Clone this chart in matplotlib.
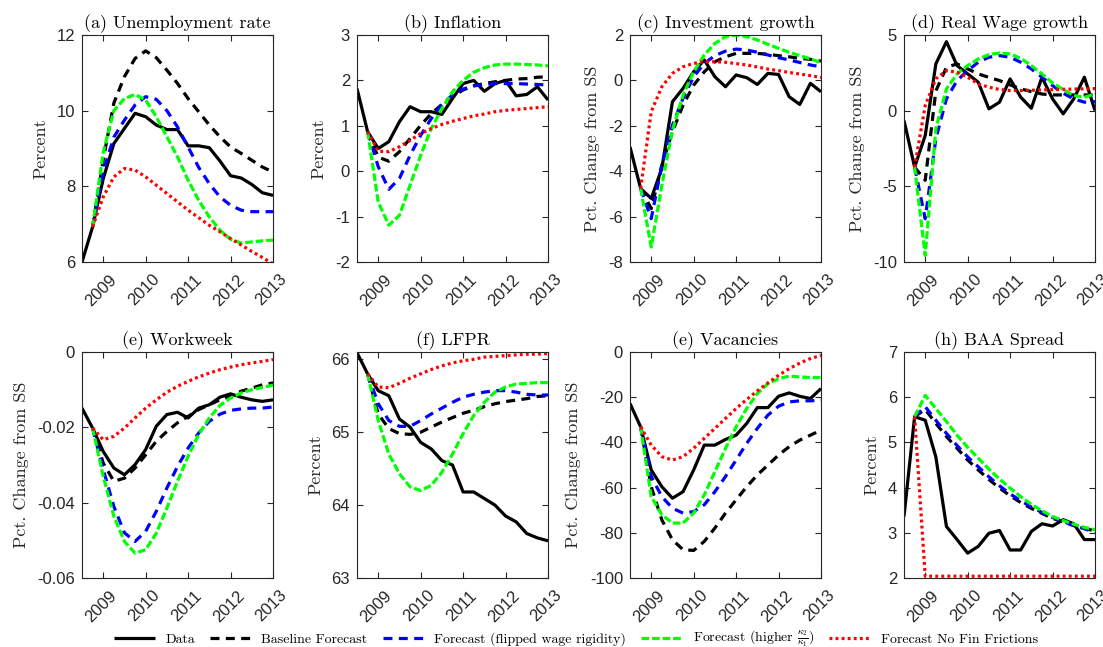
import numpy as np
import matplotlib
matplotlib.use("Agg")
import matplotlib.pyplot as plt
import matplotlib.transforms as mtransforms

plt.rcParams['axes.unicode_minus'] = False
plt.rcParams['mathtext.fontset'] = 'cm'

# quarterly dates (data from 2008Q3, forecasts from 2008Q4)
quarters = [2008.5, 2008.75, 2009.0, 2009.25, 2009.5, 2009.75, 2010.0, 2010.25, 2010.5,
            2010.75, 2011.0, 2011.25, 2011.5, 2011.75, 2012.0, 2012.25, 2012.5, 2012.75, 2013.0]
xticks = [2009, 2010, 2011, 2012, 2013]
series_labels = ["Data", "Baseline Forecast", "Forecast (flipped wage rigidity)",
                 r"Forecast (higher $\frac{\kappa_2}{\kappa_1}$)", "Forecast No Fin Frictions"]

# (a) Unemployment rate
unemp_data = [6.0, 6.93, 8.2, 9.13, 9.53, 9.93, 9.84, 9.62, 9.5, 9.5, 9.07, 9.07, 9.02, 8.67, 8.28, 8.22, 8.05, 7.83, 7.76]
unemp_base = [6.93, 8.7, 10.2, 10.9, 11.38, 11.58, 11.4, 11.07, 10.72, 10.32, 9.97, 9.62, 9.31, 9.04, 8.87, 8.69, 8.51, 8.38]
unemp_flip = [6.93, 8.4, 9.3, 9.75, 10.15, 10.37, 10.3, 10.0, 9.57, 9.04, 8.5, 8.07, 7.72, 7.5, 7.37, 7.33, 7.33, 7.33]
unemp_kappa = [6.93, 8.9, 10.0, 10.32, 10.43, 10.28, 9.84, 9.31, 8.78, 8.16, 7.63, 7.19, 6.84, 6.6, 6.5, 6.53, 6.56, 6.58]
unemp_nofin = [6.93, 7.72, 8.25, 8.47, 8.43, 8.25, 8.03, 7.81, 7.59, 7.37, 7.17, 6.97, 6.8, 6.62, 6.45, 6.28, 6.12, 5.95]

# (b) Inflation
infl_data = [1.82, 0.87, 0.5, 0.65, 1.09, 1.42, 1.31, 1.31, 1.25, 1.6, 1.93, 2.0, 1.76, 1.93, 2.0, 1.66, 1.69, 1.86, 1.57]
infl_base = [0.87, 0.31, 0.22, 0.43, 0.72, 1.01, 1.27, 1.47, 1.64, 1.79, 1.88, 1.93, 1.97, 2.0, 2.03, 2.04, 2.07, 2.08]
infl_flip = [0.87, 0.1, -0.4, -0.16, 0.35, 0.79, 1.16, 1.47, 1.68, 1.81, 1.88, 1.91, 1.93, 1.93, 1.93, 1.92, 1.91, 1.9]
infl_kappa = [0.87, -0.68, -1.19, -0.97, -0.31, 0.35, 0.94, 1.38, 1.75, 2.0, 2.18, 2.28, 2.34, 2.36, 2.36, 2.35, 2.34, 2.32]
infl_nofin = [0.87, 0.44, 0.43, 0.54, 0.68, 0.83, 0.94, 1.03, 1.1, 1.16, 1.22, 1.26, 1.31, 1.34, 1.36, 1.38, 1.4, 1.42]

# (c) Investment growth
inv_data = [-2.93, -4.76, -5.2, -3.88, -0.94, -0.35, 0.38, 0.9, 0.16, -0.28, 0.24, 0.12, -0.18, 0.31, 0.26, -0.72, -1.06, -0.13, -0.5]
inv_base = [-4.76, -5.65, -3.74, -2.26, -1.09, -0.21, 0.38, 0.82, 1.04, 1.19, 1.19, 1.19, 1.15, 1.09, 1.04, 0.97, 0.93, 0.85]
inv_flip = [-4.76, -6.09, -3.74, -1.97, -0.79, 0.16, 0.75, 1.09, 1.29, 1.38, 1.34, 1.24, 1.12, 1.0, 0.9, 0.79, 0.68, 0.6]
inv_kappa = [-4.76, -7.34, -4.62, -2.19, -0.65, 0.38, 1.12, 1.63, 1.93, 2.0, 1.93, 1.78, 1.59, 1.41, 1.24, 1.09, 0.95, 0.78]
inv_nofin = [-4.76, -1.38, -0.28, 0.31, 0.6, 0.75, 0.82, 0.82, 0.8, 0.74, 0.68, 0.59, 0.5, 0.43, 0.35, 0.28, 0.21, 0.13]

# (d) Real wage growth
wage_data = [-0.65, -3.73, -1.64, 3.09, 4.56, 2.98, 2.43, 1.88, 0.12, 0.56, 2.1, 0.89, 0.16, 2.21, 0.78, -0.21, 0.78, 2.21, 0.01]
wage_base = [-3.73, -4.6, 1.3, 2.87, 3.09, 2.76, 2.43, 2.2, 1.99, 1.7, 1.44, 1.26, 1.1, 1.04, 1.04, 1.04, 1.04, 1.04]
wage_flip = [-3.73, -7.14, -1.86, 0.78, 1.99, 2.65, 3.2, 3.53, 3.64, 3.53, 3.2, 2.76, 2.21, 1.66, 1.15, 0.78, 0.56, 0.6]
wage_kappa = [-3.73, -9.56, -1.2, 1.44, 2.43, 2.98, 3.42, 3.7, 3.81, 3.75, 3.46, 2.98, 2.43, 1.83, 1.4, 1.0, 0.89, 1.1]
wage_nofin = [-3.73, 0.34, 2.1, 2.65, 2.54, 2.21, 1.77, 1.55, 1.4, 1.33, 1.33, 1.35, 1.37, 1.39, 1.41, 1.43, 1.44, 1.46]

# (e) Workweek
ww_data = [-0.0149, -0.0202, -0.0264, -0.0308, -0.0326, -0.0299, -0.0259, -0.0197, -0.0166, -0.016, -0.0175, -0.0149, -0.014, -0.012, -0.0111, -0.012, -0.0127, -0.0131, -0.0127]
ww_base = [-0.0202, -0.0295, -0.0343, -0.0335, -0.0308, -0.0273, -0.0237, -0.0211, -0.0188, -0.0171, -0.0153, -0.014, -0.0127, -0.0116, -0.0104, -0.0096, -0.0087, -0.0082]
ww_flip = [-0.0202, -0.0312, -0.041, -0.048, -0.0503, -0.0476, -0.0423, -0.0361, -0.0304, -0.0255, -0.0215, -0.0184, -0.0165, -0.0155, -0.0151, -0.0149, -0.0149, -0.0146]
ww_kappa = [-0.0202, -0.033, -0.0436, -0.0503, -0.0534, -0.0525, -0.0481, -0.0414, -0.0343, -0.0277, -0.0219, -0.0175, -0.0142, -0.0122, -0.0109, -0.01, -0.0094, -0.0088]
ww_nofin = [-0.0202, -0.0233, -0.0224, -0.0202, -0.0175, -0.0149, -0.0127, -0.0107, -0.0091, -0.0078, -0.0066, -0.0056, -0.0047, -0.004, -0.0034, -0.0029, -0.0025, -0.002]

# (f) LFPR
lfpr_data = [66.09, 65.8, 65.57, 65.5, 65.18, 65.07, 64.86, 64.77, 64.61, 64.55, 64.18, 64.18, 64.09, 64.0, 63.85, 63.77, 63.61, 63.55, 63.51]
lfpr_base = [65.8, 65.25, 65.05, 64.98, 64.97, 65.0, 65.07, 65.14, 65.2, 65.26, 65.3, 65.35, 65.39, 65.42, 65.44, 65.46, 65.49, 65.5]
lfpr_flip = [65.8, 65.39, 65.16, 65.08, 65.08, 65.16, 65.25, 65.33, 65.41, 65.48, 65.52, 65.55, 65.57, 65.57, 65.55, 65.52, 65.51, 65.51]
lfpr_kappa = [65.8, 65.16, 64.7, 64.43, 64.25, 64.2, 64.27, 64.45, 64.7, 64.98, 65.23, 65.41, 65.55, 65.62, 65.66, 65.67, 65.68, 65.68]
lfpr_nofin = [65.8, 65.62, 65.61, 65.67, 65.74, 65.8, 65.86, 65.91, 65.95, 65.98, 66.0, 66.03, 66.04, 66.05, 66.06, 66.07, 66.07, 66.08]

# (g) Vacancies
vac_data = [-22.8, -33.1, -52.2, -59.6, -64.7, -61.8, -52.2, -41.2, -41.2, -38.7, -36.8, -31.6, -24.6, -24.6, -19.6, -18.1, -19.6, -20.6, -16.2]
vac_base = [-33.1, -59.6, -74.3, -83.1, -87.5, -87.8, -83.8, -77.9, -71.3, -65.4, -59.6, -54.4, -50.0, -45.6, -41.9, -39.0, -36.8, -34.6]
vac_flip = [-33.1, -55.1, -64.0, -69.1, -71.3, -70.6, -67.6, -61.8, -55.1, -47.8, -40.4, -33.8, -27.9, -24.0, -22.1, -21.6, -21.6, -21.3]
vac_kappa = [-33.1, -64.0, -72.0, -75.7, -75.7, -71.3, -63.2, -52.9, -42.6, -33.1, -25.0, -18.4, -14.0, -11.8, -10.7, -11.0, -11.3, -11.3]
vac_nofin = [-33.1, -41.2, -46.3, -47.8, -46.3, -42.6, -38.2, -33.8, -29.4, -25.0, -21.0, -17.2, -13.7, -10.3, -7.4, -4.9, -2.9, -1.5]

# (h) BAA Spread
baa_data = [3.36, 5.57, 5.49, 4.68, 3.14, 2.85, 2.55, 2.7, 2.99, 3.05, 2.62, 2.62, 3.03, 3.2, 3.15, 3.29, 3.2, 2.85, 2.85]
baa_base = [5.57, 5.73, 5.42, 5.13, 4.87, 4.61, 4.39, 4.18, 3.99, 3.82, 3.67, 3.54, 3.43, 3.32, 3.24, 3.16, 3.1, 3.04]
baa_flip = [5.57, 5.79, 5.49, 5.2, 4.93, 4.68, 4.46, 4.24, 4.04, 3.86, 3.71, 3.57, 3.45, 3.34, 3.25, 3.16, 3.09, 3.01]
baa_kappa = [5.57, 6.04, 5.75, 5.46, 5.16, 4.89, 4.65, 4.41, 4.19, 3.99, 3.8, 3.63, 3.49, 3.36, 3.27, 3.19, 3.12, 3.07]
baa_nofin = [5.57, 2.04, 2.04, 2.04, 2.04, 2.04, 2.04, 2.04, 2.04, 2.04, 2.04, 2.04, 2.04, 2.04, 2.04, 2.04, 2.04, 2.04]

panels = [
    ("(a) Unemployment rate", "Percent", (6, 12), [6, 8, 10, 12], ["6", "8", "10", "12"],
     [unemp_data, unemp_base, unemp_flip, unemp_kappa, unemp_nofin]),
    ("(b) Inflation", "Percent", (-2, 3), [-2, -1, 0, 1, 2, 3], ["-2", "-1", "0", "1", "2", "3"],
     [infl_data, infl_base, infl_flip, infl_kappa, infl_nofin]),
    ("(c) Investment growth", "Pct. Change from SS", (-8, 2), [-8, -6, -4, -2, 0, 2], ["-8", "-6", "-4", "-2", "0", "2"],
     [inv_data, inv_base, inv_flip, inv_kappa, inv_nofin]),
    ("(d) Real Wage growth", "Pct. Change from SS", (-10, 5), [-10, -5, 0, 5], ["-10", "-5", "0", "5"],
     [wage_data, wage_base, wage_flip, wage_kappa, wage_nofin]),
    ("(e) Workweek", "Pct. Change from SS", (-0.06, 0), [-0.06, -0.04, -0.02, 0], ["-0.06", "-0.04", "-0.02", "0"],
     [ww_data, ww_base, ww_flip, ww_kappa, ww_nofin]),
    ("(f) LFPR", "Percent", (63, 66.1), [63, 64, 65, 66], ["63", "64", "65", "66"],
     [lfpr_data, lfpr_base, lfpr_flip, lfpr_kappa, lfpr_nofin]),
    ("(e) Vacancies", "Pct. Change from SS", (-100, 0), [-100, -80, -60, -40, -20, 0], ["-100", "-80", "-60", "-40", "-20", "0"],
     [vac_data, vac_base, vac_flip, vac_kappa, vac_nofin]),
    ("(h) BAA Spread", "Percent", (2, 7), [2, 3, 4, 5, 6, 7], ["2", "3", "4", "5", "6", "7"],
     [baa_data, baa_base, baa_flip, baa_kappa, baa_nofin]),
]

styles = [
    dict(color="black", linestyle="-"),
    dict(color="black", linestyle=(0, (2.8, 2.0))),
    dict(color="#0000ff", linestyle=(0, (2.8, 2.0))),
    dict(color="#00ff00", linestyle=(0, (2.4, 0.9))),
    dict(color="#ff0000", linestyle=(0, (0.9, 1.0))),
]

W, H = 1103, 647
fig = plt.figure(figsize=(W / 100, H / 100), dpi=100)

lefts = [82, 357, 630, 904]
rows = [(35, 262), (352, 578)]
axw = 191
serif = "cmr10"
tickcol = "#262626"
xoff = mtransforms.ScaledTranslation(6 / 100, 0, fig.dpi_scale_trans)

handles = []
for i, (title, ylabel, ylim, yt, ytl, series) in enumerate(panels):
    r, c = divmod(i, 4)
    top, bot = rows[r]
    ax = fig.add_axes([lefts[c] / W, 1 - bot / H, axw / W, (bot - top) / H])
    for k, (vals, st) in enumerate(zip(series, styles)):
        xs = quarters if k == 0 else quarters[1:]
        ln, = ax.plot(xs, vals, linewidth=2.3, solid_capstyle="butt",
                      dash_capstyle="butt", **st)
        if i == 0:
            handles.append(ln)
    ax.set_xlim(2008.5, 2013)
    ax.set_ylim(*ylim)
    ax.set_xticks(xticks)
    ax.set_xticklabels([str(t) for t in xticks], rotation=45, ha="right",
                       va="top", rotation_mode="anchor")
    ax.set_yticks(yt)
    ax.set_yticklabels(ytl)
    ax.tick_params(direction="in", top=True, right=True, length=4, width=0.8,
                   labelsize=12, colors=tickcol, labelcolor=tickcol)
    ax.tick_params(axis="x", pad=7)
    ax.tick_params(axis="y", pad=5)
    for lab in ax.get_xticklabels():
        lab.set_family("Liberation Sans")
        lab.set_transform(lab.get_transform() + xoff)
    for lab in ax.get_yticklabels():
        lab.set_family("Liberation Sans")
    for sp in ax.spines.values():
        sp.set_color(tickcol)
        sp.set_linewidth(0.8)
    ax.set_title(title, family=serif, fontsize=13, pad=5)
    ax.set_ylabel(ylabel, family=serif, fontsize=13, color=tickcol, labelpad=6)

fig.legend(handles, series_labels, loc="center", bbox_to_anchor=(0.522, 1 - 639 / H),
           ncol=5, frameon=False, prop={"family": serif, "size": 10},
           handlelength=3.0, columnspacing=1.1, handletextpad=0.7)

fig.savefig("out.png", dpi=100)
